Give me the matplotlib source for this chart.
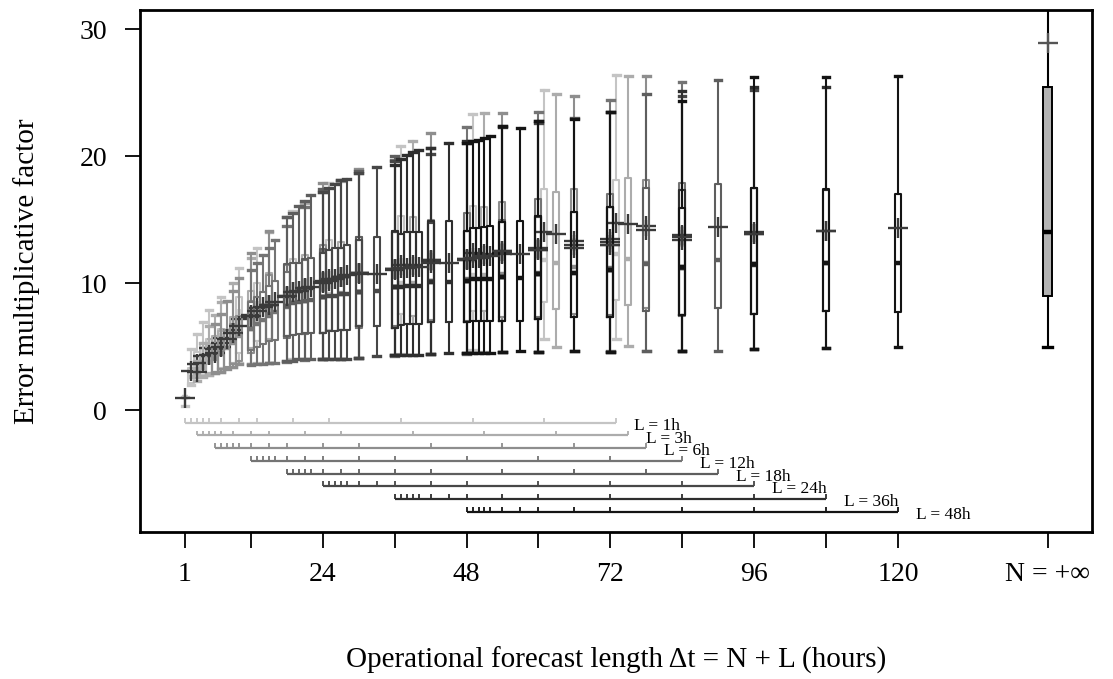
import matplotlib
matplotlib.use("Agg")
import matplotlib.pyplot as plt

# ---------------- data ----------------
lead_L = [1, 3, 6, 12, 18, 24, 36, 48]
horizons_N = [0, 1, 2, 3, 4, 6, 9, 12, 18, 24, 36, 48, 60, 72]
series_colors = ['#c4c4c4', '#acacac', '#8e8e8e', '#747474', '#5e5e5e', '#474747', '#2e2e2e', '#141414']

# one row per L, one column per N
stat_max = [
    [1.0, 4.8, 6.0, 6.9, 7.9, 8.9, 11.2, 12.8, 15.7, 17.9, 20.8, 23.3, 25.2, 26.4],
    [3.9, 5.3, 6.6, 7.5, 8.5, 10.0, 12.0, 14.0, 16.3, 18.0, 21.2, 23.4, 24.9, 26.3],
    [6.8, 7.6, 8.6, 9.4, 10.4, 12.4, 14.1, 15.2, 17.9, 19.0, 21.8, 23.4, 24.7, 26.3],
    [11.0, 11.6, 12.2, 12.8, 13.4, 14.5, 16.0, 17.2, 18.7, 19.7, 22.3, 23.5, 24.4, 25.8],
    [15.2, 15.5, 16.1, 16.5, 16.9, 17.4, 18.1, 18.8, 20.0, 20.6, 22.4, 23.0, 24.9, 26.0],
    [17.2, 17.5, 17.8, 18.1, 18.2, 18.7, 19.1, 19.6, 20.2, 21.0, 22.6, 23.5, 24.7, 25.2],
    [19.3, 19.8, 20.1, 20.3, 20.5, 20.6, 21.0, 21.2, 22.3, 22.75, 23.5, 25.1, 25.4, 25.4],
    [21.0, 21.2, 21.3, 21.4, 21.6, 22.4, 22.2, 22.75, 22.9, 23.5, 24.3, 26.2, 26.2, 26.3],
]
stat_q3 = [
    [1.0, 3.3, 4.6, 5.3, 5.6, 6.4, 8.9, 10.0, 11.9, 13.4, 15.3, 16.1, 17.4, 18.1],
    [3.3, 4.3, 5.2, 5.8, 6.2, 7.3, 9.4, 10.8, 12.2, 13.2, 15.2, 16.0, 17.2, 18.3],
    [5.0, 5.6, 6.3, 6.8, 7.4, 8.6, 10.6, 11.4, 13.0, 13.6, 15.0, 16.4, 17.4, 18.1],
    [8.5, 8.9, 9.3, 9.8, 10.2, 10.9, 11.8, 12.5, 13.4, 14.0, 15.5, 16.6, 17.0, 17.9],
    [11.5, 11.6, 11.6, 11.9, 12.0, 12.7, 12.8, 13.6, 14.1, 14.9, 15.0, 15.6, 17.5, 17.8],
    [12.4, 12.6, 12.8, 12.8, 13.0, 13.4, 13.6, 14.0, 14.7, 14.1, 15.2, 16.0, 17.3, 17.5],
    [14.1, 13.9, 14.0, 14.0, 14.0, 14.9, 14.9, 14.1, 14.8, 15.3, 16.0, 17.3, 17.5, 17.3],
    [14.1, 14.3, 14.3, 14.4, 14.5, 14.8, 14.9, 15.3, 15.6, 16.0, 15.9, 17.5, 17.4, 17.0],
]
stat_med = [
    [1.0, 2.6, 3.2, 3.6, 4.0, 4.8, 6.0, 7.1, 8.5, 9.1, 10.0, 10.6, 11.8, 12.3],
    [2.9, 3.3, 3.8, 4.2, 4.6, 5.5, 6.5, 7.6, 8.6, 9.2, 10.0, 10.6, 11.6, 11.9],
    [4.0, 4.4, 4.9, 5.3, 5.8, 6.4, 7.5, 8.2, 8.9, 9.3, 10.2, 10.7, 11.3, 11.6],
    [6.4, 6.8, 7.1, 7.4, 7.7, 8.1, 8.6, 8.9, 9.3, 9.7, 10.3, 10.8, 11.2, 11.2],
    [8.2, 8.4, 8.5, 8.6, 8.7, 8.9, 9.1, 9.3, 9.7, 10.2, 10.5, 10.8, 11.5, 11.8],
    [8.9, 9.0, 9.0, 9.1, 9.1, 9.3, 9.4, 9.7, 10.1, 10.2, 10.7, 11.0, 11.3, 11.5],
    [9.7, 9.7, 9.75, 9.8, 9.8, 10.1, 10.05, 10.2, 10.5, 10.7, 11.0, 11.2, 11.4, 11.6],
    [10.2, 10.3, 10.3, 10.3, 10.35, 10.5, 10.4, 10.7, 10.8, 11.0, 11.3, 11.5, 11.6, 11.6],
]
stat_q1 = [
    [0.95, 2.15, 2.7, 2.8, 2.9, 3.3, 4.5, 5.4, 5.9, 6.3, 7.6, 7.8, 8.5, 8.7],
    [2.5, 2.7, 2.9, 3.0, 3.2, 3.7, 4.9, 5.6, 6.0, 6.3, 7.4, 7.8, 7.95, 8.3],
    [3.0, 3.2, 3.4, 3.6, 3.9, 4.5, 5.4, 5.8, 6.1, 6.6, 7.1, 7.3, 7.6, 8.0],
    [4.7, 5.0, 5.2, 5.4, 5.5, 5.7, 6.0, 6.1, 6.5, 6.6, 7.0, 7.3, 7.5, 7.4],
    [5.8, 5.9, 6.0, 6.1, 6.1, 6.1, 6.3, 6.6, 6.5, 6.9, 7.0, 7.3, 7.8, 8.0],
    [6.1, 6.2, 6.2, 6.3, 6.3, 6.6, 6.6, 6.5, 6.9, 6.9, 7.2, 7.3, 7.5, 7.6],
    [6.5, 6.7, 6.8, 6.8, 6.8, 6.9, 6.9, 6.9, 7.0, 7.2, 7.3, 7.5, 7.6, 7.8],
    [6.9, 7.0, 7.0, 7.0, 7.0, 7.0, 7.0, 7.2, 7.3, 7.3, 7.5, 7.6, 7.8, 7.7],
]
stat_min = [
    [0.3, 2.0, 2.6, 2.7, 2.8, 3.1, 3.7, 3.7, 4.0, 4.0, 4.4, 4.7, 5.6, 5.6],
    [2.3, 2.6, 2.8, 2.9, 3.0, 3.4, 3.6, 3.7, 4.0, 4.0, 4.3, 4.6, 4.95, 5.05],
    [2.9, 3.0, 3.2, 3.4, 3.6, 3.6, 3.7, 3.9, 4.0, 4.1, 4.4, 4.6, 4.65, 4.65],
    [3.55, 3.6, 3.65, 3.7, 3.7, 3.8, 3.95, 4.0, 4.1, 4.25, 4.4, 4.6, 4.65, 4.65],
    [3.9, 3.9, 4.0, 4.0, 4.0, 4.0, 4.0, 4.1, 4.3, 4.4, 4.6, 4.65, 4.65, 4.65],
    [4.0, 4.0, 4.0, 4.0, 4.05, 4.1, 4.25, 4.3, 4.4, 4.5, 4.6, 4.6, 4.65, 4.8],
    [4.3, 4.3, 4.35, 4.35, 4.35, 4.4, 4.5, 4.5, 4.6, 4.6, 4.6, 4.65, 4.8, 4.9],
    [4.5, 4.5, 4.5, 4.5, 4.5, 4.6, 4.65, 4.6, 4.65, 4.6, 4.65, 4.8, 4.9, 4.96],
]
stat_mean = [
    [0.95, 3.1, 3.6, 4.25, 4.9, 5.7, 7.2, 8.0, 9.3, 10.3, 11.4, 12.4, 14.0, 14.7],
    [3.0, 3.7, 4.3, 4.8, 5.3, 6.3, 7.5, 8.3, 9.6, 10.5, 11.4, 12.3, 13.9, 14.65],
    [4.5, 5.0, 5.6, 6.1, 6.6, 7.3, 8.3, 9.0, 10.2, 10.8, 11.8, 12.5, 13.3, 14.5],
    [7.4, 7.8, 8.1, 8.3, 8.5, 8.9, 9.5, 10.1, 10.8, 11.1, 11.9, 12.8, 13.5, 13.8],
    [9.0, 9.3, 9.4, 9.6, 9.7, 10.1, 10.5, 10.8, 11.1, 11.8, 12.4, 13.0, 14.2, 14.4],
    [10.0, 10.2, 10.3, 10.5, 10.6, 10.7, 10.7, 11.0, 11.7, 11.8, 12.7, 13.2, 13.7, 14.0],
    [11.1, 11.2, 11.2, 11.3, 11.3, 11.6, 11.6, 11.8, 12.3, 12.6, 13.0, 13.4, 13.9, 14.1],
    [11.9, 12.0, 12.0, 12.1, 12.1, 12.5, 12.3, 12.6, 12.8, 13.0, 13.6, 13.9, 14.1, 14.3],
]

# N = +infinity box
inf_position = 145
inf_stats = dict(whislo=4.96, q1=8.95, med=14.05, q3=25.4, whishi=34.0, mean=28.9)

x_ticks = [1, 12, 24, 36, 48, 60, 72, 84, 96, 108, 120, 145]
x_ticklabels = ['1', '', '24', '', '48', '', '72', '', '96', '', '120', 'N = +\u221e']
y_ticks = [0, 10, 20, 30]

# ---------------- plot ----------------
serif = ['Liberation Serif', 'DejaVu Serif']
plt.rcParams['font.family'] = serif

fig = plt.figure(figsize=(11.13, 6.79), dpi=100)
ax = fig.add_axes([140 / 1113, 1 - 532 / 679, (1092 - 140) / 1113, (532 - 10) / 679])

mean_color = '#3a3a3a'
box_w = 1.0

for i, L in enumerate(lead_L):
    col = series_colors[i]
    stats = []
    pos = []
    for j, N in enumerate(horizons_N):
        stats.append(dict(whislo=stat_min[i][j], q1=stat_q1[i][j], med=stat_med[i][j],
                          q3=stat_q3[i][j], whishi=stat_max[i][j], mean=stat_mean[i][j],
                          fliers=[]))
        pos.append(L + N)
    ax.bxp(stats, positions=pos, widths=box_w, capwidths=box_w * 1.1,
           showmeans=True, manage_ticks=False, zorder=2 + i,
           boxprops=dict(color=col, linewidth=1.5),
           whiskerprops=dict(color=col, linewidth=1.5),
           capprops=dict(color=col, linewidth=2.4),
           medianprops=dict(color=col, linewidth=3.2, solid_capstyle='butt'),
           meanprops=dict(marker='+', markersize=14, markeredgewidth=1.7,
                          markeredgecolor=mean_color, color=mean_color))

    # lead-time guide line below the zero
    yl = -(i + 1)
    ax.hlines(yl, L, L + horizons_N[-1], color=col, linewidth=1.6, zorder=2)
    ax.vlines([L + N for N in horizons_N], yl, yl + 0.38, color=col, linewidth=1.3, zorder=2)
    ax.text(L + horizons_N[-1] + 3, yl - 0.25, f'L = {L}h', fontsize=12.5,
            ha='left', va='center', color='black')

# infinity box
inf_stat = dict(inf_stats)
inf_stat['fliers'] = []
ax.bxp([inf_stat], positions=[inf_position], widths=1.4, capwidths=1.5,
       showmeans=True, manage_ticks=False, patch_artist=True, zorder=20,
       boxprops=dict(facecolor='#b3b3b3', edgecolor='black', linewidth=1.4),
       whiskerprops=dict(color='black', linewidth=1.5),
       capprops=dict(color='black', linewidth=2.4),
       medianprops=dict(color='black', linewidth=3.2, solid_capstyle='butt'),
       meanprops=dict(marker='+', markersize=14, markeredgewidth=1.7,
                      markeredgecolor='#555555'))

ax.set_xlim(-6.5, 152.4)
ax.set_ylim(-9.6, 31.5)

ax.set_xticks(x_ticks)
ax.set_xticklabels(x_ticklabels)
ax.set_yticks(y_ticks)
ax.tick_params(axis='x', length=11.5, width=1.3, pad=10, labelsize=20)
ax.tick_params(axis='y', length=10.8, width=1.3, pad=13, labelsize=20)
for s in ax.spines.values():
    s.set_linewidth(2.0)

fig.text(616 / 1113, 1 - 660 / 679, 'Operational forecast length \u0394t = N + L (hours)',
         ha='center', va='center', fontsize=21)
fig.text(27 / 1113, 1 - 271 / 679, 'Error multiplicative factor', rotation=90,
         ha='center', va='center', fontsize=21)

fig.savefig('out.png', dpi=100)
